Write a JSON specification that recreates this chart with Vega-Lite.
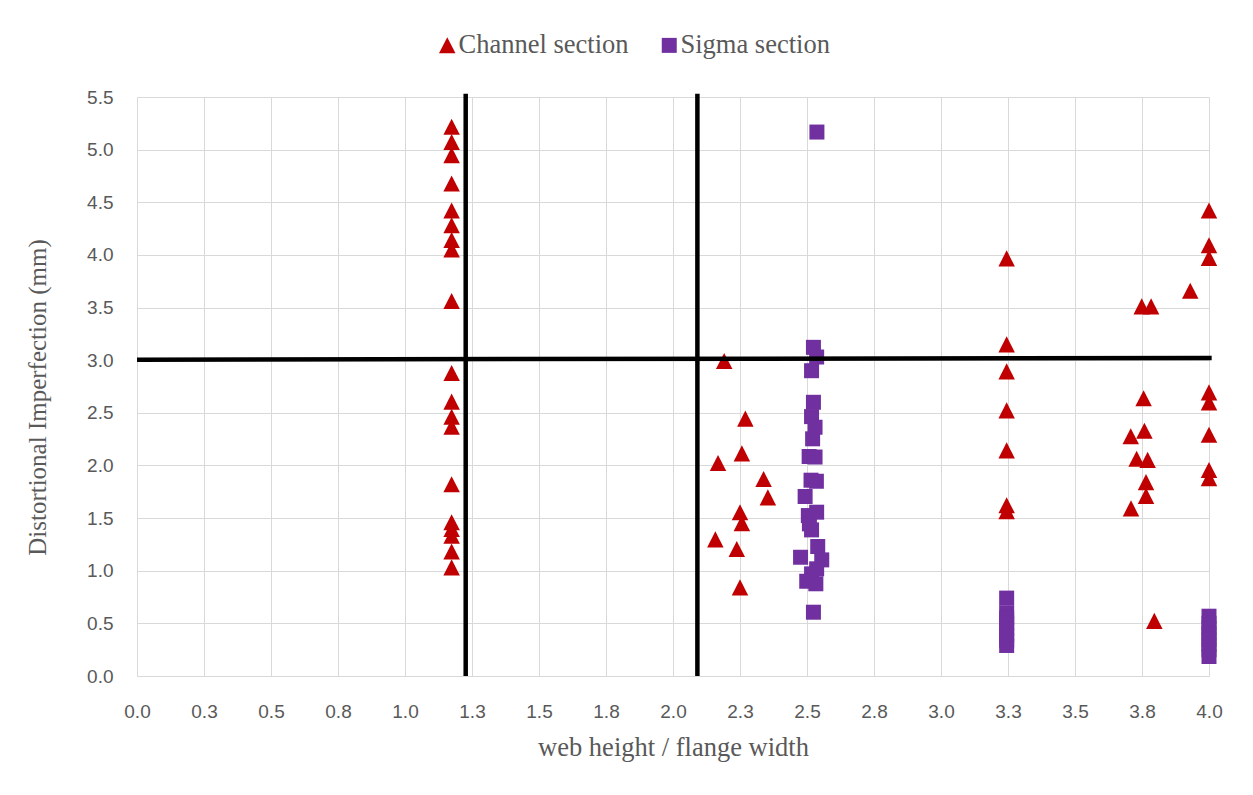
{
  "$schema": "https://vega.github.io/schema/vega-lite/v6.json",
  "width": 1072,
  "height": 579,
  "autosize": {"type": "none"},
  "padding": {"left": 137, "top": 97, "right": 44, "bottom": 119},
  "background": "white",
  "config": {"view": {"stroke": null}},
  "datasets": {
    "points": [
      {"section": "Channel section", "ratio": 1.174, "imperfection": 5.216},
      {"section": "Channel section", "ratio": 1.174, "imperfection": 5.07},
      {"section": "Channel section", "ratio": 1.174, "imperfection": 4.946},
      {"section": "Channel section", "ratio": 1.174, "imperfection": 4.677},
      {"section": "Channel section", "ratio": 1.174, "imperfection": 4.42},
      {"section": "Channel section", "ratio": 1.174, "imperfection": 4.28},
      {"section": "Channel section", "ratio": 1.174, "imperfection": 4.14},
      {"section": "Channel section", "ratio": 1.174, "imperfection": 4.05},
      {"section": "Channel section", "ratio": 1.174, "imperfection": 3.56},
      {"section": "Channel section", "ratio": 1.174, "imperfection": 2.876},
      {"section": "Channel section", "ratio": 1.174, "imperfection": 2.604},
      {"section": "Channel section", "ratio": 1.174, "imperfection": 2.46},
      {"section": "Channel section", "ratio": 1.174, "imperfection": 2.366},
      {"section": "Channel section", "ratio": 1.174, "imperfection": 1.819},
      {"section": "Channel section", "ratio": 1.174, "imperfection": 1.458},
      {"section": "Channel section", "ratio": 1.174, "imperfection": 1.394},
      {"section": "Channel section", "ratio": 1.174, "imperfection": 1.331},
      {"section": "Channel section", "ratio": 1.174, "imperfection": 1.18},
      {"section": "Channel section", "ratio": 1.174, "imperfection": 1.03},
      {"section": "Channel section", "ratio": 2.191, "imperfection": 2.99},
      {"section": "Channel section", "ratio": 2.27, "imperfection": 2.443},
      {"section": "Channel section", "ratio": 2.257, "imperfection": 2.113},
      {"section": "Channel section", "ratio": 2.168, "imperfection": 2.021},
      {"section": "Channel section", "ratio": 2.338, "imperfection": 1.869},
      {"section": "Channel section", "ratio": 2.354, "imperfection": 1.695},
      {"section": "Channel section", "ratio": 2.25, "imperfection": 1.553},
      {"section": "Channel section", "ratio": 2.257, "imperfection": 1.45},
      {"section": "Channel section", "ratio": 2.158, "imperfection": 1.296},
      {"section": "Channel section", "ratio": 2.238, "imperfection": 1.204},
      {"section": "Channel section", "ratio": 2.25, "imperfection": 0.84},
      {"section": "Channel section", "ratio": 3.245, "imperfection": 3.965},
      {"section": "Channel section", "ratio": 3.245, "imperfection": 3.148},
      {"section": "Channel section", "ratio": 3.245, "imperfection": 2.892},
      {"section": "Channel section", "ratio": 3.245, "imperfection": 2.521},
      {"section": "Channel section", "ratio": 3.245, "imperfection": 2.141},
      {"section": "Channel section", "ratio": 3.245, "imperfection": 1.62},
      {"section": "Channel section", "ratio": 3.245, "imperfection": 1.564},
      {"section": "Channel section", "ratio": 3.93, "imperfection": 3.658},
      {"section": "Channel section", "ratio": 3.749, "imperfection": 3.509},
      {"section": "Channel section", "ratio": 3.784, "imperfection": 3.509},
      {"section": "Channel section", "ratio": 3.756, "imperfection": 2.637},
      {"section": "Channel section", "ratio": 3.708, "imperfection": 2.276},
      {"section": "Channel section", "ratio": 3.759, "imperfection": 2.327},
      {"section": "Channel section", "ratio": 3.73, "imperfection": 2.062},
      {"section": "Channel section", "ratio": 3.771, "imperfection": 2.051},
      {"section": "Channel section", "ratio": 3.765, "imperfection": 1.84},
      {"section": "Channel section", "ratio": 3.765, "imperfection": 1.709},
      {"section": "Channel section", "ratio": 3.709, "imperfection": 1.59},
      {"section": "Channel section", "ratio": 3.796, "imperfection": 0.522},
      {"section": "Channel section", "ratio": 4.0, "imperfection": 4.42},
      {"section": "Channel section", "ratio": 4.0, "imperfection": 4.09},
      {"section": "Channel section", "ratio": 4.0, "imperfection": 3.97},
      {"section": "Channel section", "ratio": 4.0, "imperfection": 2.692},
      {"section": "Channel section", "ratio": 4.0, "imperfection": 2.597},
      {"section": "Channel section", "ratio": 4.0, "imperfection": 2.289},
      {"section": "Channel section", "ratio": 4.0, "imperfection": 1.955},
      {"section": "Channel section", "ratio": 4.0, "imperfection": 1.878},
      {"section": "Sigma section", "ratio": 2.537, "imperfection": 5.167},
      {"section": "Sigma section", "ratio": 2.524, "imperfection": 3.122},
      {"section": "Sigma section", "ratio": 2.536, "imperfection": 3.03},
      {"section": "Sigma section", "ratio": 2.517, "imperfection": 2.9},
      {"section": "Sigma section", "ratio": 2.524, "imperfection": 2.6},
      {"section": "Sigma section", "ratio": 2.517, "imperfection": 2.464},
      {"section": "Sigma section", "ratio": 2.53, "imperfection": 2.363},
      {"section": "Sigma section", "ratio": 2.521, "imperfection": 2.253},
      {"section": "Sigma section", "ratio": 2.508, "imperfection": 2.085},
      {"section": "Sigma section", "ratio": 2.53, "imperfection": 2.08},
      {"section": "Sigma section", "ratio": 2.515, "imperfection": 1.86},
      {"section": "Sigma section", "ratio": 2.535, "imperfection": 1.85},
      {"section": "Sigma section", "ratio": 2.493, "imperfection": 1.705},
      {"section": "Sigma section", "ratio": 2.536, "imperfection": 1.556},
      {"section": "Sigma section", "ratio": 2.505, "imperfection": 1.524},
      {"section": "Sigma section", "ratio": 2.509, "imperfection": 1.445},
      {"section": "Sigma section", "ratio": 2.517, "imperfection": 1.388},
      {"section": "Sigma section", "ratio": 2.54, "imperfection": 1.23},
      {"section": "Sigma section", "ratio": 2.476, "imperfection": 1.128},
      {"section": "Sigma section", "ratio": 2.555, "imperfection": 1.103},
      {"section": "Sigma section", "ratio": 2.536, "imperfection": 1.018},
      {"section": "Sigma section", "ratio": 2.517, "imperfection": 0.97},
      {"section": "Sigma section", "ratio": 2.499, "imperfection": 0.9},
      {"section": "Sigma section", "ratio": 2.533, "imperfection": 0.876},
      {"section": "Sigma section", "ratio": 2.524, "imperfection": 0.606},
      {"section": "Sigma section", "ratio": 3.245, "imperfection": 0.74},
      {"section": "Sigma section", "ratio": 3.245, "imperfection": 0.6},
      {"section": "Sigma section", "ratio": 3.245, "imperfection": 0.55},
      {"section": "Sigma section", "ratio": 3.245, "imperfection": 0.5},
      {"section": "Sigma section", "ratio": 3.245, "imperfection": 0.45},
      {"section": "Sigma section", "ratio": 3.245, "imperfection": 0.39},
      {"section": "Sigma section", "ratio": 3.245, "imperfection": 0.34},
      {"section": "Sigma section", "ratio": 3.245, "imperfection": 0.29},
      {"section": "Sigma section", "ratio": 4.0, "imperfection": 0.568},
      {"section": "Sigma section", "ratio": 4.0, "imperfection": 0.5},
      {"section": "Sigma section", "ratio": 4.0, "imperfection": 0.45},
      {"section": "Sigma section", "ratio": 4.0, "imperfection": 0.4},
      {"section": "Sigma section", "ratio": 4.0, "imperfection": 0.35},
      {"section": "Sigma section", "ratio": 4.0, "imperfection": 0.3},
      {"section": "Sigma section", "ratio": 4.0, "imperfection": 0.25},
      {"section": "Sigma section", "ratio": 4.0, "imperfection": 0.185}
    ],
    "vlines": [
      {"ratio": 1.2265, "imperfection": 0, "imperfection2": 5.53},
      {"ratio": 2.091, "imperfection": 0, "imperfection2": 5.53}
    ],
    "hline": [
      {"ratio": 0, "imperfection": 3.005},
      {"ratio": 4.01, "imperfection": 3.02}
    ]
  },
  "layer": [
    {
      "data": {"name": "points"},
      "mark": {"type": "point", "filled": true, "opacity": 1},
      "encoding": {
        "x": {
          "field": "ratio", "type": "quantitative",
          "scale": {"domain": [0, 4], "nice": false, "zero": false},
          "axis": {
            "title": "web height / flange width",
            "values": [0, 0.25, 0.5, 0.75, 1, 1.25, 1.5, 1.75, 2, 2.25, 2.5, 2.75, 3, 3.25, 3.5, 3.75, 4],
            "format": ".1f",
            "grid": true, "gridColor": "#d9d9d9", "gridWidth": 1,
            "ticks": false, "domainColor": "#d9d9d9", "domainWidth": 1,
            "labelFont": "Liberation Sans", "labelFontSize": 19, "labelColor": "#595959", "labelPadding": 26,
            "labelFlush": false,
            "titleFont": "Liberation Serif", "titleFontSize": 26.5, "titleFontWeight": "normal", "titleColor": "#595959", "titlePadding": 13
          }
        },
        "y": {
          "field": "imperfection", "type": "quantitative",
          "scale": {"domain": [0, 5.5], "nice": false},
          "axis": {
            "title": "Distortional Imperfection (mm)",
            "values": [0, 0.5, 1, 1.5, 2, 2.5, 3, 3.5, 4, 4.5, 5, 5.5],
            "format": ".1f",
            "grid": true, "gridColor": "#d9d9d9", "gridWidth": 1,
            "ticks": false, "domainColor": "#d9d9d9", "domainWidth": 1,
            "labelFont": "Liberation Sans", "labelFontSize": 19, "labelColor": "#595959", "labelPadding": 24,
            "labelFlush": false,
            "titleFont": "Liberation Serif", "titleFontSize": 25, "titleFontWeight": "normal", "titleColor": "#595959", "titlePadding": 36,
            "titleY": 300
          }
        },
        "color": {
          "field": "section", "type": "nominal",
          "scale": {"domain": ["Channel section", "Sigma section"], "range": ["#C00000", "#7030A0"]},
          "legend": {
            "title": null, "orient": "none", "direction": "horizontal",
            "legendX": 297, "legendY": -65,
            "labelFont": "Liberation Serif", "labelFontSize": 26.5, "labelColor": "#595959", "labelLimit": 500,
            "labelOffset": -2, "columnPadding": 27, "symbolSize": 256, "symbolOpacity": 1
          }
        },
        "shape": {
          "field": "section", "type": "nominal",
          "scale": {"domain": ["Channel section", "Sigma section"], "range": ["M0,-1L1,0.95L-1,0.95Z", "square"]}
        },
        "size": {
          "field": "section", "type": "nominal",
          "scale": {"domain": ["Channel section", "Sigma section"], "range": [272, 225]},
          "legend": null
        }
      }
    },
    {
      "data": {"name": "vlines"},
      "mark": {"type": "rule", "color": "black", "strokeWidth": 4.5},
      "encoding": {
        "x": {"field": "ratio", "type": "quantitative"},
        "y": {"field": "imperfection", "type": "quantitative"},
        "y2": {"field": "imperfection2"}
      }
    },
    {
      "data": {"name": "hline"},
      "mark": {"type": "line", "color": "black", "strokeWidth": 4.5},
      "encoding": {
        "x": {"field": "ratio", "type": "quantitative"},
        "y": {"field": "imperfection", "type": "quantitative"}
      }
    }
  ]
}
